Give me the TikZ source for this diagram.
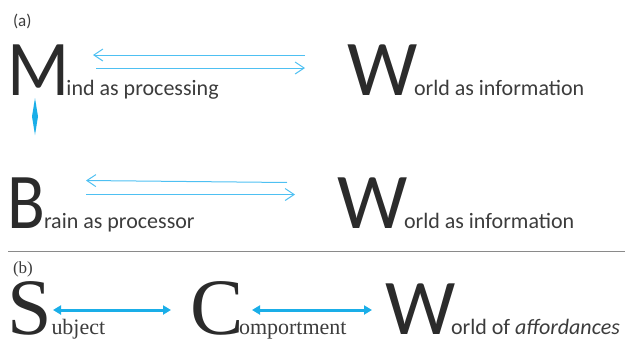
\documentclass[tikz,border=0pt]{standalone}
\usepackage{fontspec}
\setmainfont{Carlito}
\newfontfamily\tms{Liberation Serif}
\usetikzlibrary{arrows.meta}

\definecolor{ink}{HTML}{2B2B2B}
\definecolor{inklight}{HTML}{3C3C3C}
\definecolor{paleblue}{HTML}{4EC0F2}
\definecolor{deepblue}{HTML}{1AAEE8}
\definecolor{rulegray}{HTML}{8A8A8A}

\tikzset{
  txt/.style={inner sep=0pt, outer sep=0pt, anchor=base west},
  initial/.style={txt, text=ink, text height=51pt, text depth=0pt,
    font=\fontsize{79}{79}\selectfont},
  serifinitial/.style={txt, text=ink, text height=53pt, text depth=0pt,
    font=\tms\fontsize{80}{80}\selectfont},
  word/.style={txt, text=inklight, font=\fontsize{22}{26}\selectfont},
  serifword/.style={txt, text=inklight, font=\tms\fontsize{22}{26}\selectfont},
  tag/.style={txt, text=inklight, font=\fontsize{17}{20}\selectfont},
  seriftag/.style={txt, text=inklight, font=\tms\fontsize{17}{20}\selectfont},
  thinlink/.style={draw=paleblue, line width=1pt,
    -{Straight Barb[length=9pt,width=12pt,line width=1pt]}},
  thicklink/.style={draw=deepblue, line width=3pt,
    {Triangle[length=8pt,width=9pt]}-{Triangle[length=8pt,width=9pt]}}
}

\begin{document}
\begin{tikzpicture}[x=1pt,y=-1pt]
\useasboundingbox (0,0) rectangle (633,343);

% ---- (a) ----
\node[tag] (taga) at (13,26) {(a)};

\node[initial] (M) at (7,95) {\scalebox{0.92}[1]{M}};
\node[word] (Mw) at (66.5,95) {ind as processing};
\node[initial] (W1) at (347,95) {W};
\node[word] (W1w) at (414,95) {orld as information};

\coordinate (a1l) at (93,55);
\coordinate (a1r) at (305,55);
\coordinate (a2l) at (96,68);
\coordinate (a2r) at (305,68);
\draw[thinlink] (a1r) -- (a1l);
\draw[thinlink] (a2l) -- (a2r);

% small vertical link under M
\coordinate (mtop) at (35,98);
\coordinate (mbot) at (35,135);
\fill[deepblue] (mtop) -- (38,116.5) -- (mbot) -- (32,116.5) -- cycle;

\node[initial] (B) at (7,228) {\scalebox{0.88}[1]{B}};
\node[word] (Bw) at (44,228) {rain as processor};
\node[initial] (W2) at (337,228) {W};
\node[word] (W2w) at (404,228) {orld as information};

\coordinate (b1l) at (86,180.5);
\coordinate (b1r) at (287,182.5);
\coordinate (b2l) at (86,194.5);
\coordinate (b2r) at (295,194.5);
\draw[thinlink] (b1r) -- (b1l);
\draw[thinlink] (b2l) -- (b2r);

% separator
\coordinate (rl) at (8,251);
\coordinate (rr) at (625,251);
\draw[rulegray, line width=0.9pt] (rl) -- (rr);

% ---- (b) ----
\node[seriftag] (tagb) at (13,273) {(b)};

\node[serifinitial] (S) at (7,334) {S};
\node[serifword] (Sw) at (51.5,334) {ubject};
\node[serifinitial] (C) at (190,334) {C};
\node[serifword] (Cw) at (239,334) {omportment};
\node[initial] (W3) at (385,334) {W};
\node[word] (W3w) at (451,334) {orld of \textit{affordances}};

\coordinate (s1) at (53,310);
\coordinate (c1) at (171,310);
\coordinate (c2) at (252,310);
\coordinate (w1) at (372,310);
\draw[thicklink] (s1) -- (c1);
\draw[thicklink] (c2) -- (w1);
\end{tikzpicture}
\end{document}
